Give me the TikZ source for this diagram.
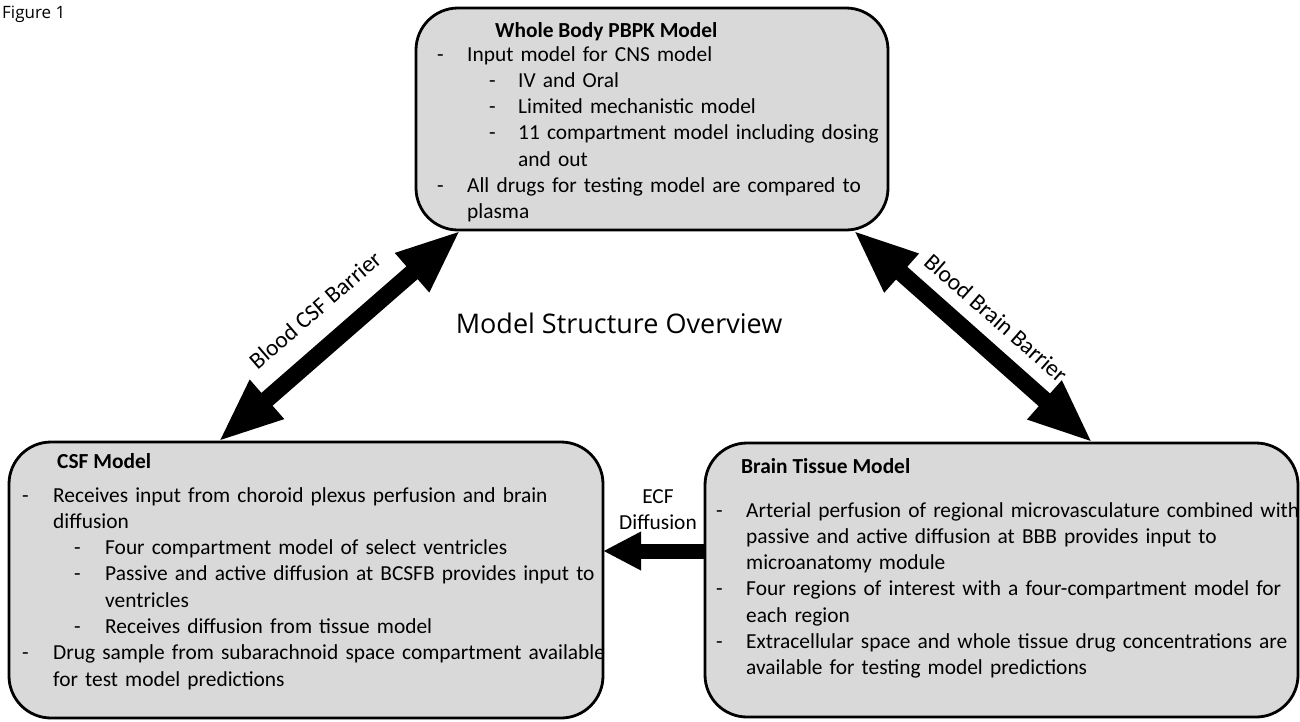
\documentclass[tikz,border=0pt]{standalone}
\usepackage{fontspec}
\setmainfont{Carlito}
\newfontfamily\osans{Open Sans}
\usetikzlibrary{arrows.meta}
\definecolor{boxgray}{HTML}{D9D9D9}
\newcommand\ditem[3]{\leavevmode\rlap{\hspace*{#1}-}\hspace*{#2}#3\par}
\newcommand\dcont[2]{\leavevmode\hspace*{#1}#2\par}
\begin{document}
\begin{tikzpicture}[x=1pt,y=-1pt,
  box/.style={draw=black, line width=2.8pt, fill=boxgray, rounded corners=42pt, inner sep=0pt, outer sep=0pt},
  body/.style={anchor=base west, inner sep=0pt, text width=700pt, font=\fontsize{21.4}{26.3}\selectfont},
  boxtitle/.style={anchor=base west, inner sep=0pt, font=\fontsize{21.4}{26.3}\selectfont\bfseries},
  bigarrow/.style={line width=17pt, arrows={Triangle[length=65pt,width=47pt]-Triangle[length=65pt,width=47pt]}},
  ecfarrow/.style={line width=15pt, arrows={-Triangle[length=38pt,width=36pt]}},
  barrierlabel/.style={inner sep=0pt, font=\fontsize{23.5}{27}\selectfont}
]
\useasboundingbox (0,0) rectangle (1300,721);

% boxes
\node[box, minimum width=472pt, minimum height=222pt] (top) at (652,119) {};
\node[box, minimum width=594pt, minimum height=276pt] (csf) at (306,580) {};
\node[box, minimum width=593pt, minimum height=274pt] (brain) at (1001.5,580) {};

% top box text
\node[boxtitle] (toptitle) at (495,37) {Whole Body PBPK Model};
\node[body] (topbody) at (437,61) {%
\ditem{0pt}{30pt}{Input model for CNS model}
\ditem{52pt}{81pt}{IV and Oral}
\ditem{52pt}{81pt}{Limited mechanistic model}
\ditem{52pt}{81pt}{11 compartment model including dosing}
\dcont{81pt}{and out}
\ditem{0pt}{30pt}{All drugs for testing model are compared to}
\dcont{30pt}{plasma}};

% CSF box text
\node[boxtitle] (csftitle) at (57,468) {CSF Model};
\node[body] (csfbody) at (22,502) {%
\ditem{0pt}{31pt}{Receives input from choroid plexus perfusion and brain}
\dcont{31pt}{diffusion}
\ditem{52pt}{83pt}{Four compartment model of select ventricles}
\ditem{52pt}{83pt}{Passive and active diffusion at BCSFB provides input to}
\dcont{83pt}{ventricles}
\ditem{52pt}{83pt}{Receives diffusion from tissue model}
\ditem{0pt}{31pt}{Drug sample from subarachnoid space compartment available}
\dcont{31pt}{for test model predictions}};

% Brain box text
\node[boxtitle] (braintitle) at (741,473) {Brain Tissue Model};
\node[body] (brainbody) at (716,517) {%
\ditem{0pt}{30pt}{Arterial perfusion of regional microvasculature combined with}
\dcont{30pt}{passive and active diffusion at BBB provides input to}
\dcont{30pt}{microanatomy module}
\ditem{0pt}{30pt}{Four regions of interest with a four-compartment model for}
\dcont{30pt}{each region}
\ditem{0pt}{30pt}{Extracellular space and whole tissue drug concentrations are}
\dcont{30pt}{available for testing model predictions}};

% connectors
\draw[bigarrow] ([xshift=209pt]csf.north west) -- ([xshift=45pt]top.south west);
\draw[bigarrow] ([xshift=-35pt]top.south east) -- ([xshift=388pt]brain.north west);
\draw[ecfarrow] ([yshift=29pt]brain.west) -- ([yshift=29pt]csf.east);

% labels
\node[barrierlabel, rotate=40.8] (lblbcsf) at (315,310) {Blood CSF Barrier};
\node[barrierlabel, rotate=-41.3] (lblbbb) at (996,318) {Blood Brain Barrier};
\node[anchor=base, inner sep=0pt, text width=100pt, align=center, font=\fontsize{21.4}{26}\selectfont] (ecflbl) at (658,503) {ECF\\Diffusion};

\node[anchor=base, inner sep=0pt, font=\osans\fontsize{27}{32}\selectfont] (overview) at (619,333) {Model Structure Overview};
\node[anchor=base west, inner sep=0pt, font=\osans\fontsize{17}{20}\selectfont] (fig) at (2,18) {Figure 1};
\end{tikzpicture}
\end{document}
